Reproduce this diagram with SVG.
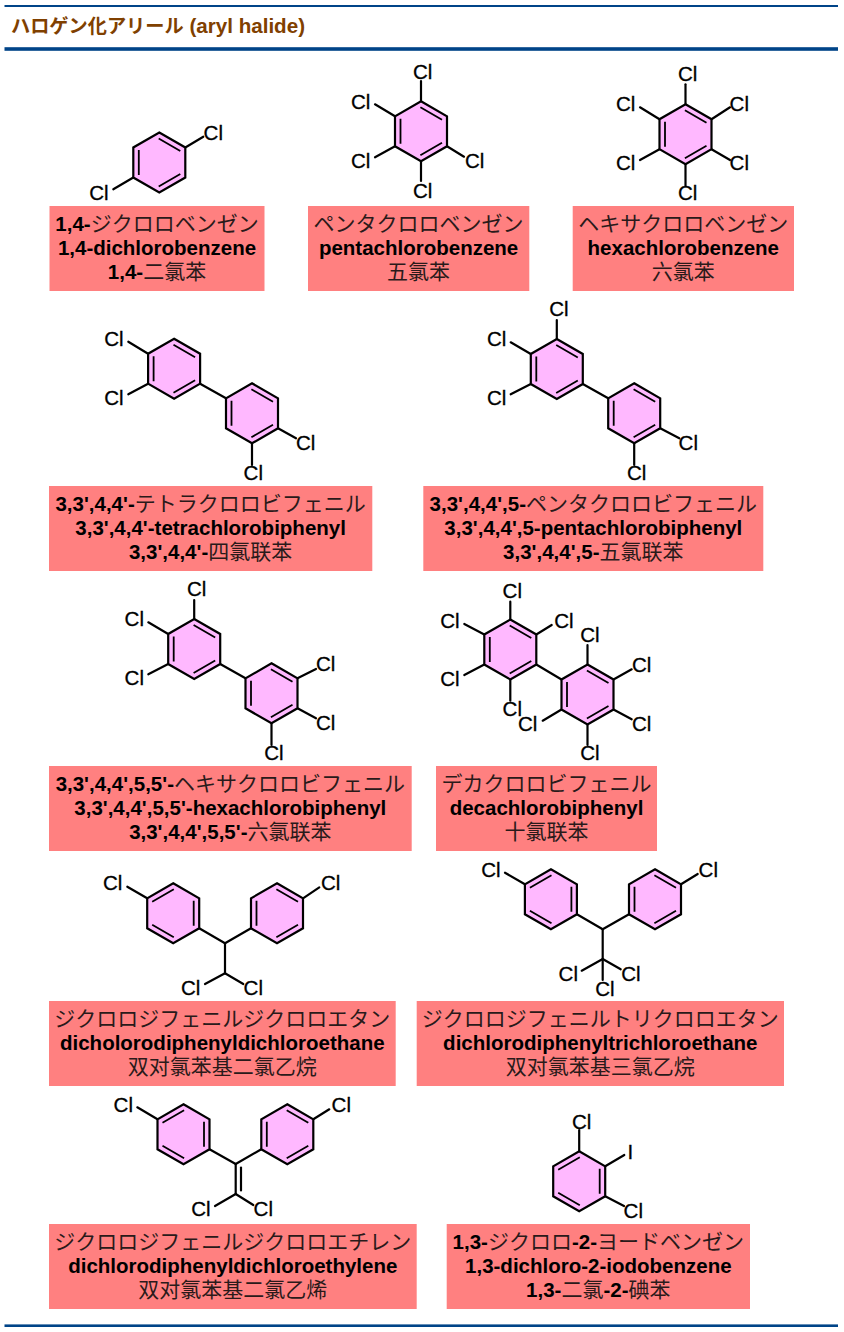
<svg xmlns="http://www.w3.org/2000/svg" xmlns:xlink="http://www.w3.org/1999/xlink" width="844" height="1332" viewBox="0 0 844 1332">
<style>
text{font-family:"Liberation Sans","Noto Sans CJK JP",sans-serif;fill:#000}
.a{font-size:20.5px;text-anchor:middle;stroke:#000;stroke-width:.3px}
.c{font-size:20.5px;font-weight:700;text-anchor:middle}
.j{font-family:"Noto Sans CJK JP","Noto Sans CJK SC",sans-serif;font-size:21px;font-weight:400;fill:#2a1a1a}
.s{font-family:"Noto Sans CJK SC","Noto Sans CJK JP",sans-serif;font-size:21px;font-weight:400;fill:#2a1a1a}
.title{font-size:20.6px;font-weight:700;fill:#804000}
.tj{font-family:"Noto Sans CJK JP",sans-serif;font-size:19.2px;font-weight:700;fill:#804000}
.box{fill:#ff8080}
.rule{fill:#004488}
.d line{stroke:#000;stroke-width:2.2;fill:none;stroke-linecap:round}
.ring{fill:#ffb8ff;stroke:#000;stroke-width:2.2;stroke-linejoin:miter}
.in{stroke:#000;stroke-width:1.8;fill:none}
</style>
<defs>
<g id="ringA"><polygon class="ring" points="0,-30 26,-15 26,15 0,30 -26,15 -26,-15"/><path class="in" d="M-.6-24L21-11.5M-20.5-12.5V12.5M-.6 24L21 11.5"/></g>
<g id="ringB"><polygon class="ring" points="0,-30 26,-15 26,15 0,30 -26,15 -26,-15"/><path class="in" d="M.6-24L-21-11.5M20.5-12.5V12.5M.6 24L-21 11.5"/></g>
</defs>
<rect width="844" height="1332" fill="#fff"/>
<g id="header">
<rect class="rule" x="4.5" y="5" width="833.5" height="2"/>
<rect class="rule" x="4.5" y="47.2" width="833.5" height="3.6"/>
<text class="title" x="11" y="33"><tspan class="tj">ハロゲン化アリール</tspan> (aryl halide)</text>
</g>
<rect id="footer-rule" class="rule" x="4.5" y="1324.4" width="833.5" height="2.6"/>

<g id="connectors" class="d">
<line x1="185.3" y1="147.5" x2="203.3" y2="136.7"/><line x1="133.3" y1="177.5" x2="113.3" y2="189.3"/>
<line x1="421" y1="101.5" x2="421" y2="81"/><line x1="395" y1="116.3" x2="375" y2="104.3"/><line x1="395" y1="146.3" x2="375" y2="157.3"/><line x1="447" y1="146.3" x2="464" y2="156.7"/><line x1="421" y1="161.3" x2="421" y2="181"/>
<line x1="685.5" y1="104.2" x2="685.5" y2="84.3"/><line x1="659.5" y1="119.2" x2="640" y2="107.3"/><line x1="711.5" y1="119.2" x2="730" y2="107.3"/><line x1="659.5" y1="149.2" x2="640" y2="160"/><line x1="711.5" y1="149.2" x2="730" y2="160"/><line x1="685.5" y1="164.2" x2="685.5" y2="186"/>
<line x1="148.1" y1="353.7" x2="128.3" y2="341.7"/><line x1="148.1" y1="383.7" x2="128.3" y2="394.3"/><line x1="200.1" y1="383.7" x2="226" y2="398.3"/><line x1="278" y1="428.3" x2="296" y2="438.3"/><line x1="252" y1="443.3" x2="252" y2="465"/>
<line x1="556.8" y1="339" x2="556.8" y2="320"/><line x1="530.8" y1="354" x2="510.7" y2="342.3"/><line x1="530.8" y1="384" x2="510.7" y2="394.3"/><line x1="582.8" y1="384" x2="608.2" y2="398.3"/><line x1="660.2" y1="428.3" x2="679.3" y2="438.3"/><line x1="634.2" y1="443.3" x2="634.2" y2="465"/>
<line x1="194.2" y1="619" x2="194.2" y2="600"/><line x1="168.2" y1="634" x2="148.3" y2="622.3"/><line x1="168.2" y1="664" x2="148.3" y2="674.3"/><line x1="220.2" y1="664" x2="245.5" y2="678.3"/><line x1="297.5" y1="678.3" x2="316" y2="669"/><line x1="297.5" y1="708.3" x2="316" y2="718.3"/><line x1="271.5" y1="723.3" x2="271.5" y2="745"/>
<line x1="510.3" y1="619.5" x2="510.3" y2="601.7"/><line x1="484.3" y1="634.5" x2="464.3" y2="624"/><line x1="536.3" y1="634.5" x2="551.7" y2="625"/><line x1="484.3" y1="664.5" x2="464.3" y2="675"/><line x1="510.3" y1="679.5" x2="510.3" y2="700.7"/><line x1="536.3" y1="664.5" x2="561.5" y2="679.5"/><line x1="587.5" y1="664.5" x2="587.5" y2="645"/><line x1="613.5" y1="679.5" x2="631.7" y2="669.3"/><line x1="613.5" y1="709.5" x2="631.7" y2="719.3"/><line x1="587.5" y1="724.5" x2="587.5" y2="745"/><line x1="561.5" y1="709.5" x2="542.7" y2="720.7"/>
<line x1="147.2" y1="898.3" x2="127.3" y2="886.7"/><line x1="303" y1="898.3" x2="319.3" y2="887.3"/><line x1="199.2" y1="928.3" x2="225" y2="943.3"/><line x1="251" y1="928.3" x2="225" y2="943.3"/><line x1="225" y1="943.3" x2="225" y2="973.3"/><line x1="225" y1="973.3" x2="205" y2="984"/><line x1="225" y1="973.3" x2="243.3" y2="984"/>
<line x1="524.9" y1="884.3" x2="505" y2="872.7"/><line x1="681" y1="884.3" x2="697.7" y2="874"/><line x1="576.9" y1="914.3" x2="602.7" y2="929.3"/><line x1="629" y1="914.3" x2="602.7" y2="929.3"/><line x1="602.7" y1="929.3" x2="602.7" y2="980"/><line x1="602.7" y1="959" x2="581.7" y2="970.7"/><line x1="602.7" y1="959" x2="620.7" y2="969.3"/>
<line x1="157.5" y1="1119.3" x2="137.3" y2="1107.3"/><line x1="313.3" y1="1119.3" x2="329.3" y2="1109.3"/><line x1="209.5" y1="1149.3" x2="235.7" y2="1164"/><line x1="261.3" y1="1149.3" x2="235.7" y2="1164"/><line x1="235.7" y1="1164" x2="235.7" y2="1194"/><line x1="241" y1="1167.5" x2="241" y2="1190.5"/><line x1="235.7" y1="1194" x2="215" y2="1206"/><line x1="235.7" y1="1194" x2="253.3" y2="1205"/>
<line x1="579.2" y1="1151.3" x2="579.2" y2="1130"/><line x1="605.2" y1="1166.3" x2="624.3" y2="1155"/><line x1="605.2" y1="1196.3" x2="624" y2="1206"/>
</g>

<g id="m1"><use href="#ringA" x="159.3" y="162.5"/>
<text class="a" x="213.3" y="140.3">Cl</text><text class="a" x="99" y="199.7">Cl</text>
<rect class="box" x="49.5" y="206" width="215" height="85"/>
<text class="c" x="157" y="230.7">1,4-<tspan class="j">ジクロロベンゼン</tspan></text>
<text class="c" x="157" y="255">1,4-dichlorobenzene</text>
<text class="c" x="157" y="279.4">1,4-<tspan class="s">二氯苯</tspan></text></g>

<g id="m2"><use href="#ringA" x="421" y="131.3"/>
<text class="a" x="422.7" y="78.7">Cl</text><text class="a" x="360.7" y="108.7">Cl</text><text class="a" x="360.7" y="168">Cl</text><text class="a" x="474.7" y="168">Cl</text><text class="a" x="422.7" y="197.7">Cl</text>
<rect class="box" x="308" y="206" width="221.3" height="85"/>
<text class="c" x="418.6" y="230.7"><tspan class="j">ペンタクロロベンゼン</tspan></text>
<text class="c" x="418.6" y="255">pentachlorobenzene</text>
<text class="c" x="418.6" y="279.4"><tspan class="s">五氯苯</tspan></text></g>

<g id="m3"><use href="#ringA" x="685.5" y="134.2"/>
<text class="a" x="687.7" y="81.3">Cl</text><text class="a" x="625.7" y="111.3">Cl</text><text class="a" x="739.3" y="111.3">Cl</text><text class="a" x="625.7" y="170.3">Cl</text><text class="a" x="739.3" y="170.3">Cl</text><text class="a" x="687.7" y="200.3">Cl</text>
<rect class="box" x="572.7" y="206" width="221.3" height="85"/>
<text class="c" x="683.3" y="230.7"><tspan class="j">ヘキサクロロベンゼン</tspan></text>
<text class="c" x="683.3" y="255">hexachlorobenzene</text>
<text class="c" x="683.3" y="279.4"><tspan class="s">六氯苯</tspan></text></g>

<g id="m4"><use href="#ringA" x="174.1" y="368.7"/><use href="#ringA" x="252" y="413.3"/>
<text class="a" x="114" y="346.3">Cl</text><text class="a" x="114" y="405.3">Cl</text><text class="a" x="305.7" y="450.3">Cl</text><text class="a" x="253.3" y="480.3">Cl</text>
<rect class="box" x="49" y="486" width="323.3" height="85"/>
<text class="c" x="210.6" y="510.7">3,3',4,4'-<tspan class="j">テトラクロロビフェニル</tspan></text>
<text class="c" x="210.6" y="535">3,3',4,4'-tetrachlorobiphenyl</text>
<text class="c" x="210.6" y="559.4">3,3',4,4'-<tspan class="s">四氯联苯</tspan></text></g>

<g id="m5"><use href="#ringA" x="556.8" y="369"/><use href="#ringA" x="634.2" y="413.3"/>
<text class="a" x="559" y="316.3">Cl</text><text class="a" x="496.7" y="346.3">Cl</text><text class="a" x="496.7" y="405.3">Cl</text><text class="a" x="688.3" y="450.3">Cl</text><text class="a" x="636.7" y="479.7">Cl</text>
<rect class="box" x="423.3" y="486" width="340" height="85"/>
<text class="c" x="593.3" y="510.7">3,3',4,4',5-<tspan class="j">ペンタクロロビフェニル</tspan></text>
<text class="c" x="593.3" y="535">3,3',4,4',5-pentachlorobiphenyl</text>
<text class="c" x="593.3" y="559.4">3,3',4,4',5-<tspan class="s">五氯联苯</tspan></text></g>

<g id="m6"><use href="#ringA" x="194.2" y="649"/><use href="#ringA" x="271.5" y="693.3"/>
<text class="a" x="196.7" y="596.3">Cl</text><text class="a" x="134.3" y="626.3">Cl</text><text class="a" x="134.3" y="685.3">Cl</text><text class="a" x="325.7" y="671.3">Cl</text><text class="a" x="325.7" y="730.3">Cl</text><text class="a" x="274" y="759.7">Cl</text>
<rect class="box" x="49" y="766" width="362.7" height="85"/>
<text class="c" x="230.3" y="790.7">3,3',4,4',5,5'-<tspan class="j">ヘキサクロロビフェニル</tspan></text>
<text class="c" x="230.3" y="815">3,3',4,4',5,5'-hexachlorobiphenyl</text>
<text class="c" x="230.3" y="839.4">3,3',4,4',5,5'-<tspan class="s">六氯联苯</tspan></text></g>

<g id="m7"><use href="#ringA" x="510.3" y="649.5"/><use href="#ringA" x="587.5" y="694.5"/>
<text class="a" x="512.3" y="597.7">Cl</text><text class="a" x="450" y="627.7">Cl</text><text class="a" x="564" y="627.7">Cl</text><text class="a" x="450" y="686.3">Cl</text><text class="a" x="512.3" y="716">Cl</text><text class="a" x="590" y="642">Cl</text><text class="a" x="641.7" y="672">Cl</text><text class="a" x="641.7" y="731">Cl</text><text class="a" x="590" y="760.3">Cl</text><text class="a" x="527.7" y="731">Cl</text>
<rect class="box" x="436" y="766" width="221" height="85"/>
<text class="c" x="546.5" y="790.7"><tspan class="j">デカクロロビフェニル</tspan></text>
<text class="c" x="546.5" y="815">decachlorobiphenyl</text>
<text class="c" x="546.5" y="839.4"><tspan class="s">十氯联苯</tspan></text></g>

<g id="m8"><use href="#ringB" x="173.2" y="913.3"/><use href="#ringA" x="277" y="913.3"/>
<text class="a" x="112.7" y="890.3">Cl</text><text class="a" x="330.7" y="890.3">Cl</text><text class="a" x="190.7" y="995.3">Cl</text><text class="a" x="253.3" y="995.3">Cl</text>
<rect class="box" x="49" y="1001" width="346.7" height="85"/>
<text class="c" x="222.3" y="1025.7"><tspan class="j">ジクロロジフェニルジクロロエタン</tspan></text>
<text class="c" x="222.3" y="1050">dicholorodiphenyldichloroethane</text>
<text class="c" x="222.3" y="1074.4"><tspan class="s">双对氯苯基二氯乙烷</tspan></text></g>

<g id="m9"><use href="#ringB" x="550.9" y="899.3"/><use href="#ringA" x="655" y="899.3"/>
<text class="a" x="491" y="877">Cl</text><text class="a" x="708.3" y="877">Cl</text><text class="a" x="568.3" y="981">Cl</text><text class="a" x="631" y="981">Cl</text><text class="a" x="605" y="996">Cl</text>
<rect class="box" x="416.7" y="1001" width="367.3" height="85"/>
<text class="c" x="600.3" y="1025.7"><tspan class="j">ジクロロジフェニルトリクロロエタン</tspan></text>
<text class="c" x="600.3" y="1050">dichlorodiphenyltrichloroethane</text>
<text class="c" x="600.3" y="1074.4"><tspan class="s">双对氯苯基三氯乙烷</tspan></text></g>

<g id="m10"><use href="#ringB" x="183.5" y="1134.3"/><use href="#ringA" x="287.3" y="1134.3"/>
<text class="a" x="123.3" y="1112">Cl</text><text class="a" x="341.3" y="1112">Cl</text><text class="a" x="201" y="1216.3">Cl</text><text class="a" x="263.3" y="1216.3">Cl</text>
<rect class="box" x="49" y="1224" width="367.7" height="85"/>
<text class="c" x="232.8" y="1248.7"><tspan class="j">ジクロロジフェニルジクロロエチレン</tspan></text>
<text class="c" x="232.8" y="1273">dichlorodiphenyldichloroethylene</text>
<text class="c" x="232.8" y="1297.4"><tspan class="s">双对氯苯基二氯乙烯</tspan></text></g>

<g id="m11"><use href="#ringB" x="579.2" y="1181.3"/>
<text class="a" x="581.7" y="1128.7">Cl</text><text class="a" x="630.3" y="1159.3">I</text><text class="a" x="633.3" y="1217.7">Cl</text>
<rect class="box" x="446.7" y="1224" width="303.3" height="85"/>
<text class="c" x="598.3" y="1248.7">1,3-<tspan class="j">ジクロロ</tspan>-2-<tspan class="j">ヨードベンゼン</tspan></text>
<text class="c" x="598.3" y="1273">1,3-dichloro-2-iodobenzene</text>
<text class="c" x="598.3" y="1297.4">1,3-<tspan class="s">二氯</tspan>-2-<tspan class="s">碘苯</tspan></text></g>
</svg>
